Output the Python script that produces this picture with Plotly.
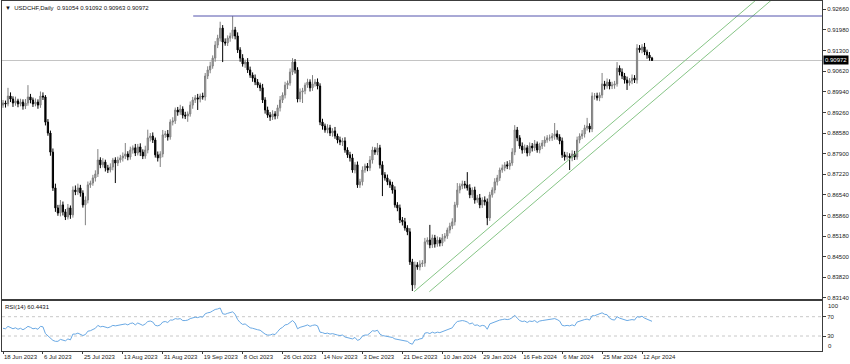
import plotly.graph_objects as go

# ---------------- data (prices in pips = price x 10000) ----------------
CLOSE_PIPS = [
    8957, 8954, 8980, 8970, 8957, 8964, 8954, 8960, 8947, 8957,
    8977, 8967, 8954, 8960, 8950, 8980, 8977, 8894, 8858, 8795,
    8677, 8611, 8594, 8621, 8598, 8581, 8611, 8588, 8670, 8664,
    8677, 8660, 8621, 8637, 8687, 8693, 8710, 8723, 8769, 8753,
    8762, 8743, 8736, 8746, 8769, 8759, 8769, 8776, 8782, 8789,
    8779, 8802, 8809, 8792, 8812, 8795, 8782, 8802, 8842, 8848,
    8835, 8786, 8776, 8789, 8852, 8855, 8845, 8894, 8898, 8934,
    8927, 8937, 8917, 8914, 8921, 8950, 8967, 8974, 8970, 8980,
    8977, 9046, 9066, 9079, 9105, 9148, 9171, 9204, 9158, 9155,
    9171, 9178, 9198, 9178, 9132, 9105, 9086, 9092, 9066, 9049,
    9039, 9026, 9016, 9007, 8967, 8934, 8917, 8911, 8921, 8914,
    8941, 8967, 8983, 9016, 9023, 9059, 9092, 9066, 8970, 8993,
    8997, 9016, 9026, 9007, 9020, 9026, 9013, 8894, 8881, 8868,
    8875, 8858, 8865, 8848, 8835, 8828, 8832, 8802, 8786, 8776,
    8736, 8753, 8687, 8697, 8736, 8749, 8743, 8769, 8802, 8795,
    8809, 8753, 8720, 8710, 8697, 8687, 8670, 8621, 8611, 8571,
    8565, 8545, 8532, 8433, 8357, 8423, 8416, 8426, 8429, 8499,
    8505, 8489, 8512, 8492, 8505, 8495, 8512, 8518, 8538, 8551,
    8565, 8621, 8670, 8683, 8690, 8687, 8677, 8654, 8670, 8637,
    8644, 8621, 8637, 8631, 8578, 8654, 8670, 8697, 8710, 8736,
    8743, 8753, 8749, 8759, 8795, 8868, 8842, 8815, 8802, 8809,
    8792, 8815, 8809, 8822, 8802, 8815, 8825, 8835, 8842, 8842,
    8848, 8855, 8845, 8832, 8786, 8779, 8782, 8776, 8789, 8779,
    8835, 8848, 8855, 8875, 8881, 8871, 8980, 8980, 8974, 8983,
    9020, 9013, 9026, 9013, 9016, 9020, 9072, 9059, 9046, 9033,
    9023, 9030, 9039, 9033, 9138, 9132, 9142, 9125, 9115, 9105.4,
    9097.2,
]
FIRST_OPEN_PIPS = 8950

UPPER_WICK = [
    10, 8, 27, 12, 9, 14, 7, 11, 9, 13,
    39, 10, 8, 12, 9, 15, 12, 6, 10, 8,
    12, 14, 10, 16, 11, 9, 13, 8, 12, 15,
    14, 10, 9, 12, 11, 8, 10, 12, 36, 9,
    13, 8, 10, 12, 7, 9, 11, 10, 12, 36,
    9, 11, 8, 13, 10, 12, 9, 14, 27, 10,
    12, 8, 11, 9, 16, 10, 13, 9, 12, 8,
    10, 14, 9, 11, 8, 12, 10, 9, 13, 8,
    11, 10, 12, 14, 9, 13, 11, 21, 10, 12,
    9, 11, 46, 10, 12, 9, 13, 8, 13, 11,
    9, 12, 10, 8, 13, 9, 11, 10, 12, 9,
    10, 13, 9, 11, 8, 12, 13, 10, 9, 12,
    10, 8, 11, 9, 29, 10, 12, 9, 11, 8,
    12, 10, 9, 13, 8, 11, 10, 12, 9, 10,
    13, 9, 11, 10, 12, 8, 10, 13, 11, 9,
    16, 10, 12, 9, 11, 8, 10, 12, 9, 11,
    10, 13, 9, 12, 10, 11, 9, 12, 10, 13,
    9, 50, 11, 10, 12, 9, 13, 10, 8, 11,
    12, 10, 23, 9, 11, 10, 42, 12, 9, 11,
    10, 13, 9, 12, 11, 10, 9, 12, 10, 8,
    11, 9, 12, 10, 13, 16, 10, 9, 12, 11,
    9, 12, 10, 13, 8, 11, 10, 12, 9, 11,
    10, 36, 12, 9, 11, 10, 13, 9, 12, 10,
    11, 9, 13, 10, 27, 9, 12, 10, 11, 9,
    36, 10, 12, 9, 11, 10, 20, 9, 12, 10,
    11, 9, 12, 10, 13, 10, 9, 13, 8, 10,
    3.8,
]

LOWER_WICK = [
    9, 12, 8, 10, 13, 9, 11, 8, 12, 10,
    9, 11, 10, 8, 12, 9, 10, 11, 9, 12,
    10, 13, 9, 11, 12, 10, 8, 13, 9, 11,
    10, 12, 9, 67, 11, 10, 9, 12, 10, 11,
    9, 12, 10, 8, 11, 66, 10, 9, 12, 10,
    11, 9, 12, 10, 8, 13, 10, 9, 11, 12,
    10, 9, 12, 30, 11, 10, 12, 9, 11, 10,
    12, 9, 11, 10, 19, 9, 12, 10, 36, 11,
    9, 12, 10, 11, 9, 12, 10, 11, 66, 9,
    10, 12, 9, 11, 10, 12, 9, 13, 10, 9,
    12, 10, 9, 11, 10, 12, 9, 13, 10, 11,
    9, 12, 10, 11, 13, 9, 10, 12, 11, 10,
    36, 11, 9, 12, 10, 9, 11, 10, 12, 9,
    11, 10, 12, 9, 11, 10, 13, 9, 10, 12,
    9, 11, 10, 10, 12, 9, 11, 10, 12, 9,
    10, 12, 70, 9, 11, 10, 12, 9, 11, 10,
    12, 9, 11, 10, 20, 12, 9, 11, 10, 12,
    9, 11, 10, 12, 9, 11, 10, 12, 9, 11,
    10, 12, 9, 11, 10, 12, 9, 11, 10, 12,
    9, 11, 10, 12, 24, 10, 9, 11, 12, 10,
    9, 11, 10, 12, 9, 10, 11, 9, 12, 10,
    11, 9, 12, 10, 9, 11, 10, 12, 9, 11,
    10, 12, 9, 11, 10, 12, 9, 40, 11, 10,
    9, 11, 10, 12, 9, 11, 10, 12, 9, 11,
    10, 12, 9, 11, 10, 12, 9, 11, 10, 12,
    23, 9, 11, 10, 12, 9, 11, 10, 12, 9,
    0.9,
]

RSI_VALUES = [
    46, 45, 50, 48, 45, 47, 44, 46, 43, 46,
    50, 48, 45, 46, 44, 50, 49, 35, 30, 26,
    21, 19, 19, 23, 21, 20, 24, 22, 34, 34,
    36, 34, 31, 33, 40, 41, 44, 46, 52, 49,
    50, 48, 47, 49, 52, 51, 52, 53, 54, 55,
    53, 56, 57, 53, 57, 54, 52, 55, 60, 61,
    59, 52, 51, 53, 59, 60, 58, 63, 63, 66,
    65, 66, 62, 62, 63, 66, 68, 69, 68, 70,
    69, 76, 78, 79, 82, 85, 86, 88, 76, 75,
    77, 78, 80, 75, 64, 58, 54, 55, 50, 47,
    46, 44, 43, 42, 37, 34, 32, 32, 34, 33,
    39, 45, 48, 53, 54, 58, 62, 57, 45, 48,
    49, 51, 53, 50, 52, 53, 51, 38, 37, 35,
    36, 34, 35, 33, 32, 31, 32, 28, 27, 26,
    24, 27, 21, 23, 30, 32, 32, 36, 41, 40,
    42, 34, 31, 30, 29, 28, 27, 24, 23, 21,
    21, 20, 19, 15, 13, 22, 22, 24, 25, 36,
    37, 35, 38, 36, 38, 37, 39, 40, 42, 44,
    47, 55, 60, 61, 62, 61, 59, 55, 57, 52,
    53, 50, 52, 51, 44, 55, 57, 60, 61, 63,
    64, 65, 64, 65, 68, 73, 67, 62, 60, 61,
    58, 61, 60, 62, 58, 61, 62, 63, 64, 64,
    65, 66, 64, 61, 52, 51, 52, 51, 53, 51,
    59, 61, 62, 64, 65, 63, 72, 72, 74, 76,
    78, 75, 74, 67, 64, 63, 70, 67, 65, 63,
    62, 63, 64, 63, 70, 69, 71, 67, 65, 63,
    60.4431,
]

DATE_LABELS = ["18 Jun 2023", "6 Jul 2023", "25 Jul 2023", "13 Aug 2023",
               "31 Aug 2023", "19 Sep 2023", "8 Oct 2023", "26 Oct 2023",
               "14 Nov 2023", "3 Dec 2023", "21 Dec 2023", "10 Jan 2024",
               "29 Jan 2024", "16 Feb 2024", "6 Mar 2024", "25 Mar 2024",
               "12 Apr 2024"]
BARS_PER_LABEL = 16

PRICE_TICKS = ["0.92660", "0.91980", "0.91300", "0.90620", "0.89940",
               "0.89260", "0.88580", "0.87900", "0.87220", "0.86540",
               "0.85860", "0.85180", "0.84500", "0.83820", "0.83140"]
RSI_LEVELS = [30, 70]
RSI_EDGE_LABELS = ["100", "0"]

LAST_BAR = {"O": "0.91054", "H": "0.91092", "L": "0.90963", "C": "0.90972"}
RSI_LAST = "60.4431"

RESISTANCE_PRICE = 0.92439
RESISTANCE_START_BAR = 76.2
TREND_1 = {"x": [164.7, 300.4], "y": [0.83346, 0.92878]}
TREND_2 = {"x": [170.8, 306.6], "y": [0.83346, 0.92878]}

# ---------------- derived OHLC ----------------
closes = [p / 1e4 for p in CLOSE_PIPS]
opens = [FIRST_OPEN_PIPS / 1e4] + closes[:-1]
highs = [max(o, c) + u / 1e4 for o, c, u in zip(opens, closes, UPPER_WICK)]
lows = [min(o, c) - d / 1e4 for o, c, d in zip(opens, closes, LOWER_WICK)]
bars = list(range(len(closes)))
last_close = float(LAST_BAR["C"])

X_RANGE = [-0.4, 328.1]
FONT = "Liberation Sans, Arial, sans-serif"
AX = "#3c3c3c"
TXT = "#222222"

fig = go.Figure()

fig.add_trace(go.Candlestick(
    x=bars, open=opens, high=highs, low=lows, close=closes,
    increasing=dict(line=dict(color="#808080", width=1), fillcolor="#a8a8a8"),
    decreasing=dict(line=dict(color="#000000", width=1), fillcolor="#000000"),
    whiskerwidth=0, xaxis="x", yaxis="y", showlegend=False, hoverinfo="skip",
))


def ray(tl):
    x0, x1 = tl["x"]
    y0, y1 = tl["y"]
    k = (y1 - y0) / (x1 - x0)
    return [x0, x1 + 40], [y0, y1 + k * 40]


for tl in (TREND_1, TREND_2):
    rx, ry = ray(tl)
    fig.add_trace(go.Scatter(x=rx, y=ry, mode="lines",
                             line=dict(color="#86c586", width=1),
                             xaxis="x", yaxis="y", showlegend=False,
                             hoverinfo="skip"))

fig.add_trace(go.Scatter(x=[RESISTANCE_START_BAR, X_RANGE[1] + 5],
                         y=[RESISTANCE_PRICE, RESISTANCE_PRICE], mode="lines",
                         line=dict(color="#5252ac", width=1),
                         xaxis="x", yaxis="y", showlegend=False, hoverinfo="skip"))

fig.add_trace(go.Scatter(x=bars, y=RSI_VALUES, mode="lines",
                         line=dict(color="#6aa9e4", width=1),
                         xaxis="x2", yaxis="y2", showlegend=False, hoverinfo="skip"))

price_vals = [float(t) for t in PRICE_TICKS]
label_pos = [i * BARS_PER_LABEL for i in range(len(DATE_LABELS))]

shapes = [
    dict(type="line", xref="paper", x0=0, x1=1, yref="y", y0=last_close, y1=last_close,
         line=dict(color="#c4c4c4", width=1), layer="below"),
]
for lv in RSI_LEVELS:
    shapes.append(dict(type="line", xref="paper", x0=0, x1=1, yref="y2", y0=lv, y1=lv,
                       line=dict(color="#c8c8c8", width=1, dash="3px,3px"), layer="below"))

annotations = [
    dict(xref="paper", yref="paper", x=0, y=1, xanchor="left", yanchor="top",
         xshift=1, yshift=-2, showarrow=False,
         text="\u25bc  USDCHF,Daily  %s %s %s %s" % (LAST_BAR["O"], LAST_BAR["H"],
                                                  LAST_BAR["L"], LAST_BAR["C"]),
         font=dict(family=FONT, size=6, color="#111111")),
    dict(xref="paper", yref="paper", x=0, y=0.1429, xanchor="left", yanchor="top",
         xshift=1, yshift=-1, showarrow=False, text="RSI(14) " + RSI_LAST,
         font=dict(family=FONT, size=6, color="#111111")),
    dict(xref="paper", yref="y", x=1, y=last_close, xanchor="left", yanchor="middle",
         xshift=1, showarrow=False, text=LAST_BAR["C"], bgcolor="#000000", borderpad=1,
         font=dict(family=FONT, size=6, color="#ffffff")),
    # RSI edge labels, kept inside the panel as the terminal does
    dict(xref="paper", yref="y2", x=1, y=100, xanchor="left", yanchor="top",
         xshift=4, yshift=1, showarrow=False, text=RSI_EDGE_LABELS[0],
         font=dict(family=FONT, size=6, color=TXT)),
    dict(xref="paper", yref="y2", x=1, y=0, xanchor="left", yanchor="bottom",
         xshift=4, yshift=0, showarrow=False, text=RSI_EDGE_LABELS[1],
         font=dict(family=FONT, size=6, color=TXT)),
]

fig.update_layout(
    width=850, height=364,
    margin=dict(l=2, r=28, t=1, b=13),
    paper_bgcolor="#ffffff", plot_bgcolor="#ffffff",
    showlegend=False,
    font=dict(family=FONT, size=6, color=TXT),
    xaxis=dict(domain=[0, 1], anchor="y", range=X_RANGE, showticklabels=False,
               showgrid=False, zeroline=False, showline=True, mirror=True,
               linecolor=AX, linewidth=1, rangeslider=dict(visible=False),
               ticks=""),
    yaxis=dict(domain=[0.1486, 1], anchor="x", range=[0.83106, 0.92934], side="right",
               tickvals=price_vals, ticktext=PRICE_TICKS, ticks="outside", ticklen=3,
               tickcolor=AX, showgrid=False, zeroline=False, showline=True, mirror=True,
               linecolor=AX, linewidth=1, automargin=False,
               tickfont=dict(family=FONT, size=6, color=TXT)),
    xaxis2=dict(domain=[0, 1], anchor="y2", matches="x", range=X_RANGE,
                tickvals=label_pos, ticktext=DATE_LABELS, ticks="outside", ticklen=2,
                tickcolor=AX, ticklabelposition="outside right", tickangle=0,
                showgrid=False, zeroline=False, showline=True, mirror=True,
                linecolor=AX, linewidth=1, automargin=False,
                tickfont=dict(family=FONT, size=6, color=TXT)),
    yaxis2=dict(domain=[0, 0.1429], anchor="x2", range=[-1, 102.5], side="right",
                tickvals=RSI_LEVELS, ticktext=[str(v) for v in RSI_LEVELS],
                ticks="outside", ticklen=3, tickcolor=AX,
                showgrid=False, zeroline=False, showline=True, mirror=True,
                linecolor=AX, linewidth=1, automargin=False,
                tickfont=dict(family=FONT, size=6, color=TXT)),
    shapes=shapes,
    annotations=annotations,
)

fig.write_html("out.html",
               config={"displayModeBar": False},
               post_script="document.body.style.margin='0px';"
                           "document.body.style.overflow='hidden';")
